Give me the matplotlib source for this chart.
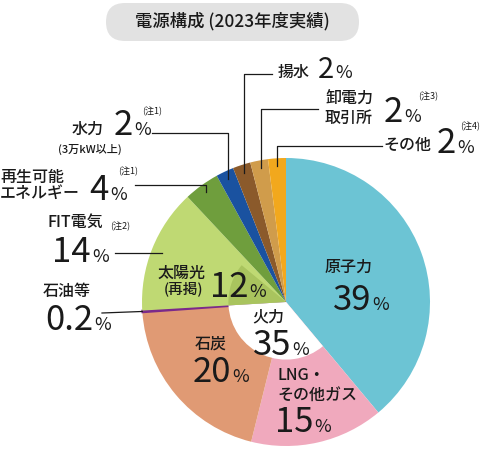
import numpy as np
import matplotlib
matplotlib.use("Agg")
import matplotlib.pyplot as plt
from matplotlib.patches import Wedge, FancyBboxPatch

plt.rcParams['font.family'] = ['Noto Sans CJK JP', 'DejaVu Sans']

# data
sources = ['原子力', 'LNG・その他ガス', '石炭', '石油等', 'FIT電気',
           '再生可能エネルギー', '水力', '揚水', '卸電力取引所', 'その他']
shares = [39, 15, 20, 0.2, 14, 4, 2, 2, 2, 2]
colors = ['#6cc4d4', '#f0a9bd', '#e09a74', '#7b2a8a', '#bfd973',
          '#6f9e3d', '#1a52a0', '#8b5a2b', '#d09c4b', '#f2a81d']
thermal_idx = [1, 2, 3]      # 火力 = LNG + 石炭 + 石油等
thermal_label = '35'
solar_share = 12              # 太陽光(再掲), part of FIT電気
solar_color = '#a9c45e'

W, H = 490, 449
CX, CY, R = 286, H - 302, 144
INK = '#1a1a1a'


def Y(y):
    return H - y


fig = plt.figure(figsize=(W / 100, H / 100), dpi=100)
ax = fig.add_axes([0, 0, 1, 1])

total = sum(shares)
wedges, _ = ax.pie(shares, colors=colors, startangle=90, counterclock=False,
                   center=(CX, CY), radius=R, wedgeprops=dict(linewidth=0))

# the tiny oil slice gets an outline so it stays visible
oil = sources.index('石油等')
wedges[oil].set_edgecolor(colors[oil])
wedges[oil].set_linewidth(1.3)

# cumulative angles (pie style: start at top, clockwise)
cum = np.concatenate([[0], np.cumsum(shares)]) / total


def ang(f):
    return 90 - 360 * f


# inner white wedge for thermal
ax.add_patch(Wedge((CX, CY), R * 0.40, ang(cum[thermal_idx[-1] + 1]), ang(cum[thermal_idx[0]]),
                   fc='white', lw=0))
# inner darker wedge for solar inside FIT
fit = sources.index('FIT電気')
ax.add_patch(Wedge((CX, CY), R * 0.40, ang(cum[fit] + solar_share / total), ang(cum[fit]),
                   fc=solar_color, lw=0))


def mid_point(i, r):
    a = np.radians(ang((cum[i] + cum[i + 1]) / 2))
    return CX + r * np.cos(a), CY + r * np.sin(a)


def leader(i, x0, y0):
    # horizontal from label, then straight down into the slice
    px, py = mid_point(i, R * 0.945)
    ax.plot([x0, px, px], [Y(y0), Y(y0), py], color=INK, lw=0.9)


def pct(x, y, num, size=25, psize=13):
    ax.text(x, Y(y), num, ha='right', va='baseline', fontsize=size, color=INK)
    ax.text(x + 1, Y(y), '%', ha='left', va='baseline', fontsize=psize, color=INK)


def label(x, y, s, size=11.5, ha='center'):
    ax.text(x, Y(y), s, ha=ha, va='center', fontsize=size, color=INK,
            fontweight='medium')


def note(x, y, s):
    ax.text(x, Y(y), s, ha='left', va='center', fontsize=6.5, color=INK)


# title
ax.add_patch(FancyBboxPatch((106, Y(41)), 253, 38,
                            boxstyle='round,pad=0,rounding_size=19',
                            fc='#e2e2e2', ec='none'))
ax.text(232, Y(21), '電源構成 (2023年度実績)', ha='center', va='center',
        fontsize=12.5, color=INK, fontweight='medium')

# inside labels
label(349, 267, '原子力')
pct(371, 310, '39')
label(268, 317, '火力')
pct(291, 355, thermal_label)
label(211, 344, '石炭')
pct(231, 382, '20')
label(277, 376, 'LNG・', ha='left')
label(277, 396, 'その他ガス', ha='left')
pct(313, 432, '15')
label(182, 273, '太陽光')
label(183, 289, '(再掲)', size=10.5)
pct(248, 297, '12')

# outside labels
label(47, 222, 'FIT電気', ha='left')
note(110, 226, '(注2)')
pct(91, 262, '14')
ax.plot([115, 162], [Y(253), Y(253)], color=INK, lw=0.9)

label(43, 291, '石油等', ha='left')
pct(93, 330, '0.2')
ox, oy = mid_point(oil, R)
ax.plot([102, ox], [Y(313), oy], color=INK, lw=0.9)

label(0, 177, '再生可能', ha='left')
label(0, 193, 'エネルギー', ha='left')
pct(109, 200, '4')
note(118, 171, '(注1)')
leader(sources.index('再生可能エネルギー'), 135, 185)

label(72, 129, '水力', ha='left')
pct(133, 135, '2')
note(142, 111, '(注1)')
label(90, 149, '(3万kW以上)', size=8)
leader(sources.index('水力'), 152, 133)

label(278, 72, '揚水', ha='left')
pct(334, 78, '2', size=21)
leader(sources.index('揚水'), 272, 74)

label(325, 98, '卸電力', ha='left')
label(325, 118, '取引所', ha='left')
pct(403, 122, '2')
note(418, 96, '(注3)')
leader(sources.index('卸電力取引所'), 318, 109)

label(383, 145, 'その他', ha='left')
pct(456, 153, '2')
note(460, 126, '(注4)')
leader(sources.index('その他'), 382, 146)

ax.set_xlim(0, W)
ax.set_ylim(0, H)
ax.set_aspect('equal')
ax.axis('off')

fig.savefig('out.png', dpi=100)
